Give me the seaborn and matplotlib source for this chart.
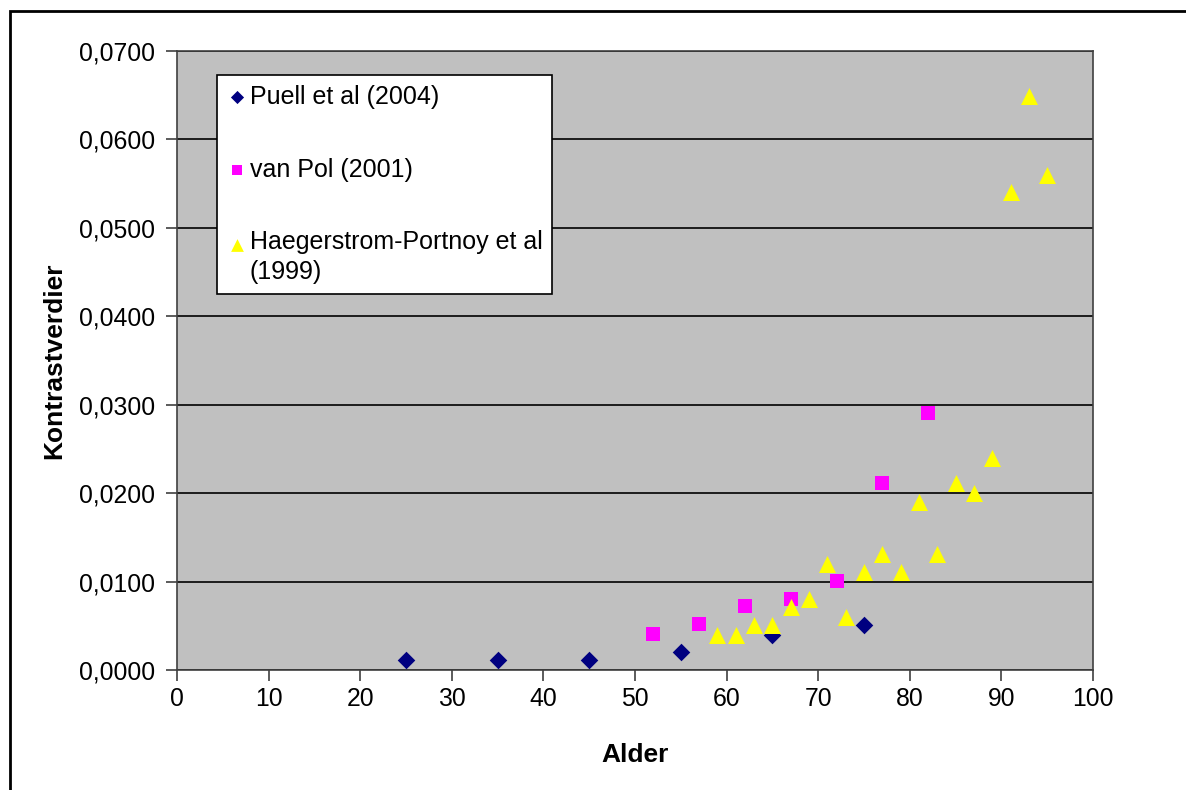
import matplotlib
matplotlib.use("Agg")
import matplotlib.pyplot as plt
import seaborn as sns
import pandas as pd
from matplotlib.ticker import FuncFormatter, MultipleLocator
from matplotlib.patches import Rectangle

puell_age = [25, 35, 45, 55, 65, 75]
puell_val = [0.0011, 0.0011, 0.0011, 0.0020, 0.0040, 0.0051]

vanpol_age = [52, 57, 62, 67, 72, 77, 82]
vanpol_val = [0.0041, 0.0052, 0.0072, 0.0080, 0.0101, 0.0211, 0.0291]

haeg_age = [59, 61, 63, 65, 67, 69, 71, 73, 75, 77, 79, 81, 83, 85, 87, 89, 91, 93, 95]
haeg_val = [0.0040, 0.0040, 0.0051, 0.0051, 0.0071, 0.0080, 0.0120, 0.0060, 0.0111,
            0.0131, 0.0111, 0.0190, 0.0131, 0.0211, 0.0200, 0.0240, 0.0540, 0.0649, 0.0560]

labels = ["Puell et al (2004)", "van Pol (2001)", "Haegerstrom-Portnoy et al\n(1999)"]

df = pd.concat([
    pd.DataFrame({"Alder": puell_age, "Kontrastverdier": puell_val, "Studie": labels[0]}),
    pd.DataFrame({"Alder": vanpol_age, "Kontrastverdier": vanpol_val, "Studie": labels[1]}),
    pd.DataFrame({"Alder": haeg_age, "Kontrastverdier": haeg_val, "Studie": labels[2]}),
])

sns.set_style("white")
plt.rcParams['font.family'] = ['Liberation Sans', 'DejaVu Sans']
plt.rcParams['text.color'] = 'black'
plt.rcParams['axes.labelcolor'] = 'black'
plt.rcParams['xtick.color'] = 'black'
plt.rcParams['ytick.color'] = 'black'

fig = plt.figure(figsize=(11.86, 7.90), dpi=100)
ax = fig.add_axes([177/1186, 1 - 670/790, (1093 - 177)/1186, (670 - 51)/790])
ax.set_facecolor("#C0C0C0")

palette = {labels[0]: "#000080", labels[1]: "#FF00FF", labels[2]: "#FFFF00"}
markers = {labels[0]: "D", labels[1]: "s", labels[2]: "^"}
sizes = {labels[0]: 80, labels[1]: 110, labels[2]: 150}

for lab in labels:
    sub = df[df["Studie"] == lab]
    sns.scatterplot(data=sub, x="Alder", y="Kontrastverdier", color=palette[lab],
                    marker=markers[lab], s=sizes[lab], linewidth=0, ax=ax,
                    label=lab, zorder=3)

ax.set_xlim(0, 100)
ax.set_ylim(0, 0.07)
ax.xaxis.set_major_locator(MultipleLocator(10))
ax.yaxis.set_major_locator(MultipleLocator(0.01))
ax.yaxis.set_major_formatter(FuncFormatter(lambda v, p: f"{v:.4f}".replace(".", ",")))
ax.grid(axis="y", color="black", linewidth=1.2, zorder=1)
ax.set_axisbelow(True)
for s in ax.spines.values():
    s.set_color("#404040")
    s.set_linewidth(1.2)
ax.tick_params(axis="both", direction="out", length=8, width=1.2, color="#404040",
               labelcolor="black", labelsize=17.8, left=True, bottom=True)
ax.tick_params(axis="y", pad=8)
ax.tick_params(axis="x", pad=4)
ax.set_xlabel("Alder", fontsize=19, fontweight="bold", labelpad=23, color="black")
ax.set_ylabel("Kontrastverdier", fontsize=19, fontweight="bold", labelpad=9, color="black")

leg = ax.legend(loc="upper left", bbox_to_anchor=((217 - 177)/916, 1 - (75 - 51)/619),
                frameon=True, fancybox=False, fontsize=18, handletextpad=0.1,
                labelspacing=1.95, borderpad=0.4, handlelength=0.8, markerscale=0.75,
                borderaxespad=0)
for t in leg.get_texts():
    t.set_color("black")
    t.set_linespacing(1.3)
leg.get_frame().set_edgecolor("black")
leg.get_frame().set_linewidth(1.2)
leg.get_frame().set_facecolor("white")
leg.get_frame().set_alpha(1)

# align the last legend marker with the first line of its two-line label
h3 = leg.legend_handles[2]
offs = h3.get_offsets().copy()
offs[:, 1] += 11
h3.set_offsets(offs)

fig.add_artist(Rectangle((10/1186, -0.1), 1.2, 1 - 11/790 + 0.1, transform=fig.transFigure,
                         fill=False, edgecolor="black", linewidth=2))

fig.savefig("out.png", dpi=100)
